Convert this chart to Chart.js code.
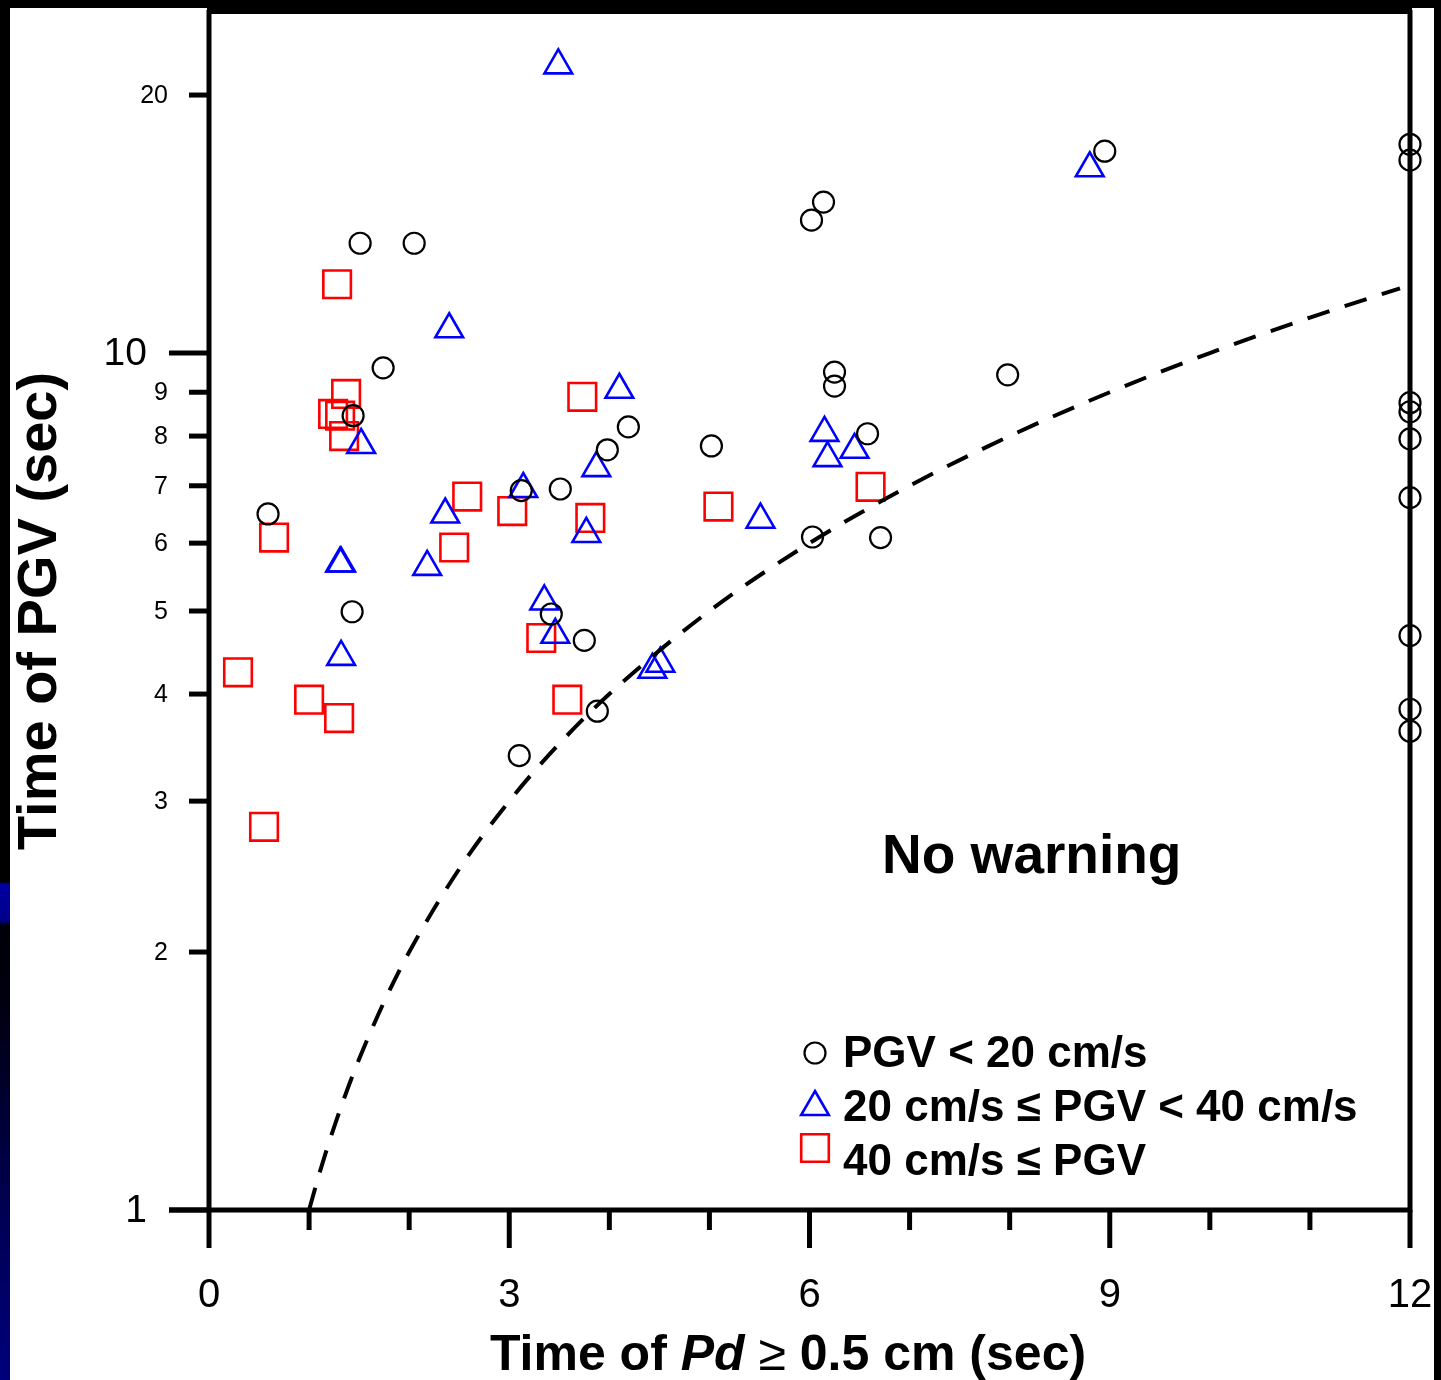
<!DOCTYPE html>
<html>
<head>
<meta charset="utf-8">
<title>Time of PGV vs time of Pd</title>
<script src="https://cdn.jsdelivr.net/npm/chart.js"></script>
<style>
    html, body { margin: 0; padding: 0; background: #fff; }
    #wrap { position: relative; width: 1441px; height: 1380px; overflow: hidden; background: #fff; }
    #plot { position: absolute; left: 0; top: 0; }
    .bar { position: absolute; background: #000; }
    #barTop { left: 0; top: 0; width: 1441px; height: 8px; }
    #barRight { left: 1434px; top: 0; width: 7px; height: 1380px; }
    #barLeft {
        left: 0; top: 0; width: 10px; height: 1380px;
        background: linear-gradient(to bottom, #000 0px, #000 882px, #0000a0 884px, #00008c 920px,
                    #000008 926px, #000010 1000px, #000050 1200px, #00007c 1380px);
    }
</style>
</head>
<body>
<div id="wrap">
    <canvas id="plot" width="1441" height="1380"></canvas>
    <div class="bar" id="barTop"></div>
    <div class="bar" id="barLeft"></div>
    <div class="bar" id="barRight"></div>
</div>
<script>
// PGV < 20 cm/s (circles)
const circleX = [0.59, 1.51, 2.05, 1.74, 1.44, 1.43, 3.12, 3.51, 3.42, 3.75, 3.88, 3.10,
                 3.98, 4.19, 5.02, 6.02, 6.14, 6.25, 6.25, 6.58, 6.03, 6.71, 7.98, 8.95,
                 12, 12, 12, 12, 12, 12, 12, 12, 12];
const circleY = [6.49, 13.43, 13.43, 9.61, 8.45, 4.99, 6.91, 6.94, 4.96, 4.62, 3.82, 3.39,
                 7.71, 8.20, 7.79, 14.29, 15.0, 9.50, 9.15, 8.05, 6.10, 6.09, 9.43, 17.20,
                 17.52, 16.79, 8.75, 8.54, 7.94, 6.78, 4.68, 3.84, 3.62];

// 20 cm/s <= PGV < 40 cm/s (triangles)
const triX = [3.49, 2.40, 4.10, 1.52, 3.14, 3.87, 2.36, 3.77, 1.31, 1.32, 2.18, 3.35,
              3.46, 1.32, 4.43, 4.51, 5.51, 6.15, 6.18, 6.45, 8.80];
const triY = [21.66, 10.66, 9.06, 7.81, 6.94, 7.34, 6.48, 6.15, 5.68, 5.68, 5.63, 5.13,
              4.69, 4.42, 4.27, 4.34, 6.39, 8.07, 7.54, 7.71, 16.43];

// 40 cm/s <= PGV (squares)
const squareX = [1.28, 1.37, 1.24, 1.31, 1.35, 3.73, 2.58, 3.03, 3.81, 2.45, 0.65, 5.09,
                 6.61, 3.32, 3.58, 0.29, 1.00, 1.30, 0.55];
const squareY = [12.03, 8.96, 8.49, 8.45, 8.00, 8.89, 6.80, 6.54, 6.42, 5.93, 6.09, 6.62,
                 6.98, 4.65, 3.94, 4.24, 3.94, 3.75, 2.80];

// dashed boundary (PGV time = Pd time)
const curveX = [1, 1.1, 1.2, 1.35, 1.5, 1.75, 2, 2.5, 3, 3.5, 4, 5, 6, 7, 8, 9, 10, 11, 11.9];
const curveY = [1, 1.1, 1.2, 1.35, 1.5, 1.75, 2, 2.5, 3, 3.5, 4, 5, 6, 7, 8, 9, 10, 11, 11.9];

const xTickValues = [0, 1, 2, 3, 4, 5, 6, 7, 8, 9, 10, 11, 12];
const xTickLabels = ['0', '', '', '3', '', '', '6', '', '', '9', '', '', '12'];
const yTickValues = [1, 2, 3, 4, 5, 6, 7, 8, 9, 10, 20];
const yTickLabels = ['1', '2', '3', '4', '5', '6', '7', '8', '9', '10', '20'];

const legendLabels = ['PGV < 20 cm/s', '20 cm/s \u2264 PGV < 40 cm/s', '40 cm/s \u2264 PGV'];

const FONT = '"Liberation Sans", Arial, Helvetica, sans-serif';

function toPoints(xs, ys) {
    return xs.map((x, i) => ({ x: x, y: ys[i] }));
}

function drawMarker(ctx, style, x, y) {
    ctx.beginPath();
    if (style === 'circle') {
        ctx.strokeStyle = '#000';
        ctx.lineWidth = 2.2;
        ctx.arc(x, y, 10.5, 0, Math.PI * 2);
    } else if (style === 'triangle') {
        const r = 16;
        ctx.strokeStyle = '#0000ff';
        ctx.lineWidth = 2.6;
        ctx.moveTo(x, y - r);
        ctx.lineTo(x + Math.sin(2 * Math.PI / 3) * r, y + r / 2);
        ctx.lineTo(x - Math.sin(2 * Math.PI / 3) * r, y + r / 2);
        ctx.closePath();
    } else {
        ctx.strokeStyle = '#ff0000';
        ctx.lineWidth = 2.6;
        ctx.rect(x - 13.8, y - 13.8, 27.6, 27.6);
    }
    ctx.stroke();
}

// axis frame, ticks and tick labels drawn from the chart's own scales
const framePlugin = {
    id: 'frame',
    beforeDatasetsDraw(chart) {
        const ctx = chart.ctx;
        const xs = chart.scales.x;
        const ys = chart.scales.y;
        const x0 = xs.getPixelForValue(0);
        const x12 = xs.getPixelForValue(12);
        const yBottom = ys.getPixelForValue(1);

        ctx.save();
        ctx.fillStyle = '#000';
        // thick top edge of the frame
        ctx.fillRect(x0 - 2, 0, x12 - x0 + 4, 14);

        ctx.strokeStyle = '#000';
        ctx.lineCap = 'butt';
        ctx.lineWidth = 5;
        ctx.beginPath();
        ctx.moveTo(x0, 10);
        ctx.lineTo(x0, yBottom);
        ctx.moveTo(x12, 10);
        ctx.lineTo(x12, yBottom);
        ctx.moveTo(x0 - 40, yBottom);
        ctx.lineTo(x12 + 2.5, yBottom);
        ctx.stroke();

        // x ticks
        xTickValues.forEach((v, i) => {
            const px = xs.getPixelForValue(v);
            const len = xTickLabels[i] !== '' ? 38 : 20;
            ctx.beginPath();
            ctx.moveTo(px, yBottom);
            ctx.lineTo(px, yBottom + len);
            ctx.stroke();
        });

        // y ticks
        yTickValues.forEach((v) => {
            const py = ys.getPixelForValue(v);
            const len = (v === 1 || v === 10) ? 40 : 20;
            ctx.beginPath();
            ctx.moveTo(x0 - len, py);
            ctx.lineTo(x0, py);
            ctx.stroke();
        });
        ctx.restore();
    },
    afterDraw(chart) {
        const ctx = chart.ctx;
        const xs = chart.scales.x;
        const ys = chart.scales.y;
        const x0 = xs.getPixelForValue(0);

        ctx.save();
        ctx.fillStyle = '#000';
        ctx.textBaseline = 'middle';

        // x tick labels
        ctx.textAlign = 'center';
        ctx.font = '40px ' + FONT;
        xTickValues.forEach((v, i) => {
            if (xTickLabels[i] === '') return;
            ctx.fillText(xTickLabels[i], xs.getPixelForValue(v), 1296);
        });

        // y tick labels: the decades are printed larger
        ctx.textAlign = 'right';
        yTickValues.forEach((v, i) => {
            const py = ys.getPixelForValue(v);
            if (v === 1 || v === 10) {
                ctx.font = '39px ' + FONT;
                ctx.fillText(yTickLabels[i], x0 - 62, py + 1);
            } else {
                ctx.font = '25px ' + FONT;
                ctx.fillText(yTickLabels[i], x0 - 41, py + 1);
            }
        });

        // x axis title with italic Pd
        const parts = [
            { t: 'Time of ', f: 'bold 50px ' + FONT },
            { t: 'Pd', f: 'italic bold 50px ' + FONT },
            { t: ' \u2265', f: '50px ' + FONT },
            { t: ' 0.5 cm (sec)', f: 'bold 50px ' + FONT }
        ];
        let total = 0;
        parts.forEach(p => { ctx.font = p.f; p.w = ctx.measureText(p.t).width; total += p.w; });
        let cx = 788 - total / 2;
        ctx.textAlign = 'left';
        ctx.textBaseline = 'alphabetic';
        parts.forEach(p => { ctx.font = p.f; ctx.fillText(p.t, cx, 1370); cx += p.w; });

        // region note
        ctx.font = 'bold 55px ' + FONT;
        ctx.fillText('No warning', 882, 873);

        // legend
        ctx.font = 'bold 44px ' + FONT;
        ctx.textBaseline = 'middle';
        const styles = ['circle', 'triangle', 'rect'];
        const markerY = [1053, 1107, 1148];
        const textY = [1055, 1109, 1163];
        styles.forEach((s, i) => {
            drawMarker(ctx, s, 815, markerY[i]);
            ctx.fillStyle = '#000';
            ctx.fillText(legendLabels[i], 843, textY[i]);
        });
        ctx.restore();
    }
};

const ctx = document.getElementById('plot').getContext('2d');
const chart = new Chart(ctx, {
    type: 'scatter',
    data: {
        datasets: [
            {
                label: 'boundary',
                type: 'line',
                data: toPoints(curveX, curveY),
                borderColor: '#000',
                borderWidth: 4,
                borderDash: [23, 16],
                pointRadius: 0,
                fill: false,
                cubicInterpolationMode: 'monotone',
                clip: false
            },
            {
                label: legendLabels[0],
                data: toPoints(circleX, circleY),
                pointStyle: 'circle',
                pointRadius: 10.5,
                pointBorderWidth: 2.2,
                pointBorderColor: '#000',
                pointBackgroundColor: 'rgba(0,0,0,0)',
                clip: false
            },
            {
                label: legendLabels[1],
                data: toPoints(triX, triY),
                pointStyle: 'triangle',
                pointRadius: 16,
                pointBorderWidth: 2.6,
                pointBorderColor: '#0000ff',
                pointBackgroundColor: 'rgba(0,0,0,0)',
                clip: false
            },
            {
                label: legendLabels[2],
                data: toPoints(squareX, squareY),
                pointStyle: 'rect',
                pointRadius: 19.5,
                pointBorderWidth: 2.6,
                pointBorderColor: '#ff0000',
                pointBackgroundColor: 'rgba(0,0,0,0)',
                clip: false
            }
        ]
    },
    options: {
        responsive: false,
        animation: false,
        events: [],
        layout: {
            autoPadding: false,
            padding: { top: 12, right: 31, left: 0, bottom: 0 }
        },
        plugins: {
            legend: { display: false },
            tooltip: { enabled: false }
        },
        scales: {
            x: {
                type: 'linear',
                min: 0,
                max: 12,
                grid: { display: false },
                border: { display: false },
                ticks: { display: false },
                afterFit: scale => { scale.height = 170; }
            },
            y: {
                type: 'logarithmic',
                min: 1,
                max: 25,
                grid: { display: false },
                border: { display: false },
                ticks: { display: false },
                title: {
                    display: true,
                    text: 'Time of PGV (sec)',
                    color: '#000',
                    font: { family: FONT, size: 56, weight: 'bold' },
                    padding: { top: 7, bottom: 0 }
                },
                afterFit: scale => { scale.width = 209; }
            }
        }
    },
    plugins: [framePlugin]
});
</script>
</body>
</html>
